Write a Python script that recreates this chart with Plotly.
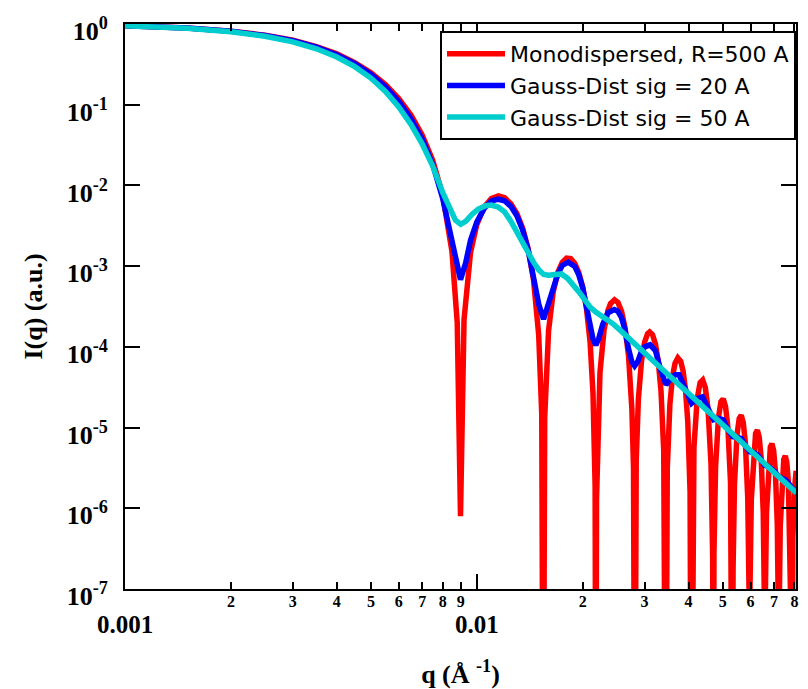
import math
import plotly.graph_objects as go

# ---------------- data ----------------
red_q = [0.001, 0.0015, 0.002, 0.0025, 0.003, 0.0035, 0.004, 0.0045, 0.005, 0.0055,
         0.006, 0.0065, 0.007, 0.0075, 0.008, 0.0085, 0.0088, 0.00899, 0.0092, 0.0096,
         0.010, 0.0105, 0.011, 0.01152, 0.012, 0.0125, 0.013, 0.0135, 0.014, 0.0145,
         0.015, 0.0153, 0.015451, 0.0156, 0.016, 0.0165, 0.017, 0.0175, 0.018, 0.0182,
         0.0185, 0.019, 0.0195, 0.020, 0.0205, 0.021, 0.0214, 0.0217, 0.021808, 0.0219,
         0.0224, 0.023, 0.0236, 0.024, 0.02464, 0.0252, 0.0258, 0.0264, 0.027, 0.0276,
         0.0279, 0.028132, 0.0284, 0.0288, 0.0294, 0.030, 0.0306, 0.031, 0.0316, 0.0322,
         0.0328, 0.0334, 0.034, 0.034442, 0.0348, 0.0354, 0.036, 0.0366, 0.0373, 0.038,
         0.0386, 0.0392, 0.0398, 0.0404, 0.040743, 0.0412, 0.04144, 0.04234, 0.04314, 0.04388,
         0.04464, 0.04544, 0.04634, 0.04684, 0.047039, 0.04724, 0.04774, 0.04864, 0.04944, 0.05018,
         0.05094, 0.05174, 0.05264, 0.05314, 0.053332, 0.05353, 0.05403, 0.05493, 0.05573, 0.05647,
         0.05723, 0.05803, 0.05893, 0.05943, 0.059623, 0.05982, 0.06032, 0.06122, 0.06202, 0.06276,
         0.06352, 0.06432, 0.06522, 0.06572, 0.065913, 0.06611, 0.06661, 0.06751, 0.06831, 0.06905,
         0.06981, 0.07061, 0.07151, 0.07201, 0.072201, 0.0724, 0.0729, 0.0738, 0.0746, 0.07534,
         0.0761, 0.0769, 0.0778, 0.0783, 0.078489, 0.07869, 0.07919, 0.08009, 0.08089]
red_I = [0.951, 0.893, 0.816, 0.726, 0.628, 0.526, 0.4265, 0.333, 0.2495, 0.1779,
         0.1195, 0.0745, 0.0419, 0.0203, 0.00758, 0.00153, 1.99e-4, 8.0e-7, 2.17e-4, 1.476e-3,
         3.255e-3, 5.41e-3, 6.89e-3, 7.43e-3, 7.04e-3, 5.95e-3, 4.49e-3, 2.96e-3, 1.633e-3, 6.73e-4,
         1.40e-4, 1.48e-5, 1e-10, 1.33e-5, 1.59e-4, 4.85e-4, 8.35e-4, 1.115e-3, 1.256e-3, 1.267e-3,
         1.238e-3, 1.081e-3, 8.33e-4, 5.54e-4, 3.02e-4, 1.14e-4, 2.65e-5, 1.88e-6, 1e-10, 1.31e-6,
         4.82e-5, 1.61e-4, 2.82e-4, 3.43e-4, 3.83e-4, 3.55e-4, 2.75e-4, 1.72e-4, 7.77e-5, 1.71e-5,
         3.17e-6, 1e-10, 3.92e-6, 2.24e-5, 6.73e-5, 1.146e-4, 1.461e-4, 1.534e-4, 1.415e-4, 1.088e-4,
         6.64e-5, 2.84e-5, 5.15e-6, 1e-10, 3.11e-6, 1.94e-5, 4.23e-5, 6.23e-5, 7.30e-5, 6.64e-5,
         5.00e-5, 2.96e-5, 1.18e-5, 1.58e-6, 1e-10, 2.56e-6, 5.74e-6, 2.31e-5, 3.61e-5, 3.88e-5,
         3.12e-5, 1.71e-5, 3.50e-6, 2.5e-7, 1e-10, 2.9e-7, 3.26e-6, 1.32e-5, 2.09e-5, 2.27e-5,
         1.84e-5, 1.02e-5, 2.10e-6, 1.5e-7, 1e-10, 1.75e-7, 1.99e-6, 8.14e-6, 1.30e-5, 1.42e-5,
         1.15e-5, 6.43e-6, 1.34e-6, 9.7e-8, 1e-10, 1.12e-7, 1.28e-6, 5.27e-6, 8.45e-6, 9.28e-6,
         7.60e-6, 4.26e-6, 8.9e-7, 6.5e-8, 1e-10, 7.5e-8, 8.6e-7, 3.57e-6, 5.74e-6, 6.33e-6,
         5.21e-6, 2.93e-6, 6.2e-7, 4.5e-8, 1e-10, 5.2e-8, 6.0e-7, 2.50e-6, 4.04e-6, 4.47e-6,
         3.69e-6, 2.08e-6, 4.4e-7, 3.2e-8, 1e-10, 3.7e-8, 4.3e-7, 1.80e-6, 2.92e-6]

blue_q = [0.001, 0.0015, 0.002, 0.0025, 0.003, 0.0035, 0.004, 0.0045, 0.005, 0.0055,
          0.006, 0.0065, 0.007, 0.0075, 0.008, 0.0084, 0.0087, 0.00899, 0.0093, 0.0096,
          0.010, 0.0105, 0.011, 0.0115, 0.012, 0.0125, 0.013, 0.0135, 0.014, 0.0145,
          0.015, 0.01548, 0.016, 0.0165, 0.017, 0.0175, 0.0182, 0.019, 0.0195, 0.020,
          0.0205, 0.021, 0.0214, 0.0218, 0.0222, 0.0228, 0.0236, 0.0246, 0.0252, 0.0258,
          0.0264, 0.027, 0.0276, 0.0281, 0.0287, 0.0294, 0.030, 0.0311, 0.0322, 0.0334,
          0.0345, 0.0354, 0.0366, 0.0376, 0.0392, 0.0408, 0.0424, 0.0438, 0.0454, 0.0471,
          0.0486, 0.0502, 0.0517, 0.0534, 0.0549, 0.0565, 0.058, 0.0597, 0.0612, 0.0628,
          0.0643, 0.0659, 0.0674, 0.069, 0.0706, 0.0722, 0.0737, 0.0753, 0.0769, 0.0785,
          0.081]
blue_I = [0.950, 0.890, 0.812, 0.720, 0.620, 0.517, 0.416, 0.322, 0.238, 0.167,
          0.110, 0.067, 0.0375, 0.0180, 6.9e-3, 2.5e-3, 1.2e-3, 6.8e-4, 1.1e-3, 2.1e-3,
          3.5e-3, 5.2e-3, 6.4e-3, 6.75e-3, 6.45e-3, 5.5e-3, 4.2e-3, 2.8e-3, 1.58e-3, 7.5e-4,
          3.4e-4, 2.2e-4, 3.4e-4, 5.4e-4, 8.0e-4, 1.02e-3, 1.12e-3, 9.9e-4, 7.8e-4, 5.4e-4,
          3.2e-4, 1.9e-4, 1.25e-4, 1.05e-4, 1.25e-4, 1.9e-4, 2.65e-4, 2.9e-4, 2.75e-4, 2.3e-4,
          1.6e-4, 9.5e-5, 6.5e-5, 5.8e-5, 6.6e-5, 8.8e-5, 1.0e-4, 1.06e-4, 9.0e-5, 5.0e-5,
          3.4e-5, 3.9e-5, 4.5e-5, 4.5e-5, 3.1e-5, 2.0e-5, 2.3e-5, 2.4e-5, 1.75e-5, 1.25e-5,
          1.3e-5, 1.25e-5, 9.5e-6, 7.7e-6, 7.6e-6, 7.3e-6, 6.0e-6, 5.0e-6, 4.9e-6, 4.6e-6,
          4.0e-6, 3.4e-6, 3.3e-6, 3.1e-6, 2.8e-6, 2.45e-6, 2.35e-6, 2.25e-6, 2.05e-6, 1.8e-6,
          1.62e-6]

cyan_q = [0.001, 0.0015, 0.002, 0.0025, 0.003, 0.0035, 0.004, 0.0045, 0.005, 0.0055,
          0.006, 0.0065, 0.007, 0.0075, 0.008, 0.0084, 0.0087, 0.009, 0.0093, 0.0097,
          0.0101, 0.0106, 0.0110, 0.0115, 0.0120, 0.0125, 0.0130, 0.0135, 0.0140, 0.0145,
          0.0150, 0.0155, 0.0160, 0.0167, 0.0174, 0.0181, 0.0188, 0.0196, 0.0203, 0.0210,
          0.0218, 0.0226, 0.0235, 0.0245, 0.0256, 0.0267, 0.0278, 0.0300, 0.0325, 0.035,
          0.0375, 0.040, 0.045, 0.050, 0.055, 0.060, 0.065, 0.070, 0.075, 0.081]
cyan_I = [0.948, 0.886, 0.800, 0.705, 0.600, 0.493, 0.390, 0.296, 0.214, 0.146,
          0.094, 0.057, 0.0325, 0.0172, 8.2e-3, 5.0e-3, 3.7e-3, 3.3e-3, 3.6e-3, 4.4e-3,
          5.1e-3, 5.6e-3, 5.7e-3, 5.4e-3, 4.7e-3, 3.6e-3, 2.6e-3, 1.95e-3, 1.45e-3, 1.12e-3,
          9.0e-4, 7.9e-4, 7.7e-4, 8.0e-4, 8.0e-4, 7.1e-4, 5.9e-4, 4.7e-4, 3.8e-4, 3.1e-4,
          2.7e-4, 2.45e-4, 2.2e-4, 1.9e-4, 1.6e-4, 1.33e-4, 1.15e-4, 8.4e-5, 6.1e-5, 4.5e-5,
          3.42e-5, 2.64e-5, 1.65e-5, 1.08e-5, 7.4e-6, 5.2e-6, 3.78e-6, 2.8e-6, 2.12e-6, 1.55e-6]

series_names = ["Monodispersed, R=500 A", "Gauss-Dist sig = 20 A", "Gauss-Dist sig = 50 A"]

x_tick_vals = [0.002, 0.003, 0.004, 0.005, 0.006, 0.007, 0.008, 0.009,
               0.02, 0.03, 0.04, 0.05, 0.06, 0.07, 0.08]
x_tick_text = ["2", "3", "4", "5", "6", "7", "8", "9",
               "2", "3", "4", "5", "6", "7", "8"]
x_major_vals = [0.001, 0.01]
x_major_text = ["0.001", "0.01"]
y_vals = [1, 1e-1, 1e-2, 1e-3, 1e-4, 1e-5, 1e-6, 1e-7]
y_text = ["10<sup>0</sup>", "10<sup>-1</sup>", "10<sup>-2</sup>", "10<sup>-3</sup>",
          "10<sup>-4</sup>", "10<sup>-5</sup>", "10<sup>-6</sup>", "10<sup>-7</sup>"]

# ---------------- figure ----------------
# (the page body has an 8 px margin, so the figure is 800x681 placed at 8,8)
SERIF = "Liberation Serif"
fig = go.Figure()
for q, I, name, col in [(red_q, red_I, series_names[0], "#ff0000"),
                        (blue_q, blue_I, series_names[1], "#0000ff"),
                        (cyan_q, cyan_I, series_names[2], "#00cdcd")]:
    fig.add_trace(go.Scatter(x=q, y=I, mode="lines", name=name,
                             line=dict(color=col, width=5.5)))

# decade labels of the q axis, set lower and larger than the 2..9 labels
# (annotations on a log axis take log10 positions)
for v, t in zip(x_major_vals, x_major_text):
    fig.add_annotation(x=math.log10(v), xref="x", y=-0.0628, yref="paper",
                       yanchor="middle", xanchor="center", text=t, showarrow=False,
                       font=dict(family=SERIF, size=25, color="black", weight="bold"))

xrange = [-3, -1.0925]
fig.update_layout(
    template="none",
    width=800, height=681,
    margin=dict(l=117, r=12, t=16, b=100, autoexpand=False),
    paper_bgcolor="white", plot_bgcolor="white",
    font=dict(family=SERIF, color="black"),
    legend=dict(x=1, xanchor="right", y=0.9876, yanchor="top",
                bordercolor="black", borderwidth=2, bgcolor="white",
                font=dict(family="DejaVu Sans", size=22, color="black"),
                itemwidth=58, tracegroupgap=0),
    xaxis=dict(type="log", range=xrange, tickmode="array",
               tickvals=x_tick_vals, ticktext=x_tick_text, tickangle=0,
               ticks="inside", ticklen=7, tickwidth=2, tickcolor="black",
               minor=dict(tickmode="array", tickvals=x_major_vals, ticks="inside",
                          ticklen=15, tickwidth=2, tickcolor="black", showgrid=False),
               showline=True, linewidth=2, linecolor="black", mirror="ticks",
               showgrid=False, zeroline=False, automargin=False,
               ticklabelstandoff=-3,
               tickfont=dict(family=SERIF, size=16, color="black", weight="bold"),
               title=dict(text="q (Å <sup>-1</sup>)", standoff=56,
                          font=dict(family=SERIF, size=26, color="black", weight="bold"))),
    yaxis=dict(type="log", range=[-7, 0], tickmode="array", tickvals=y_vals, ticktext=y_text,
               ticks="inside", ticklen=15, tickwidth=2, tickcolor="black",
               showline=True, linewidth=2, linecolor="black", mirror="ticks",
               showgrid=False, zeroline=False, automargin=False,
               ticklabelstandoff=10, ticklabelshift=7, ticklabeloverflow="allow",
               tickfont=dict(family=SERIF, size=26, color="black", weight="bold"),
               title=dict(text="I(q) (a.u.)", standoff=17,
                          font=dict(family=SERIF, size=26, color="black", weight="bold"))),
)
fig.write_html("out.html")
